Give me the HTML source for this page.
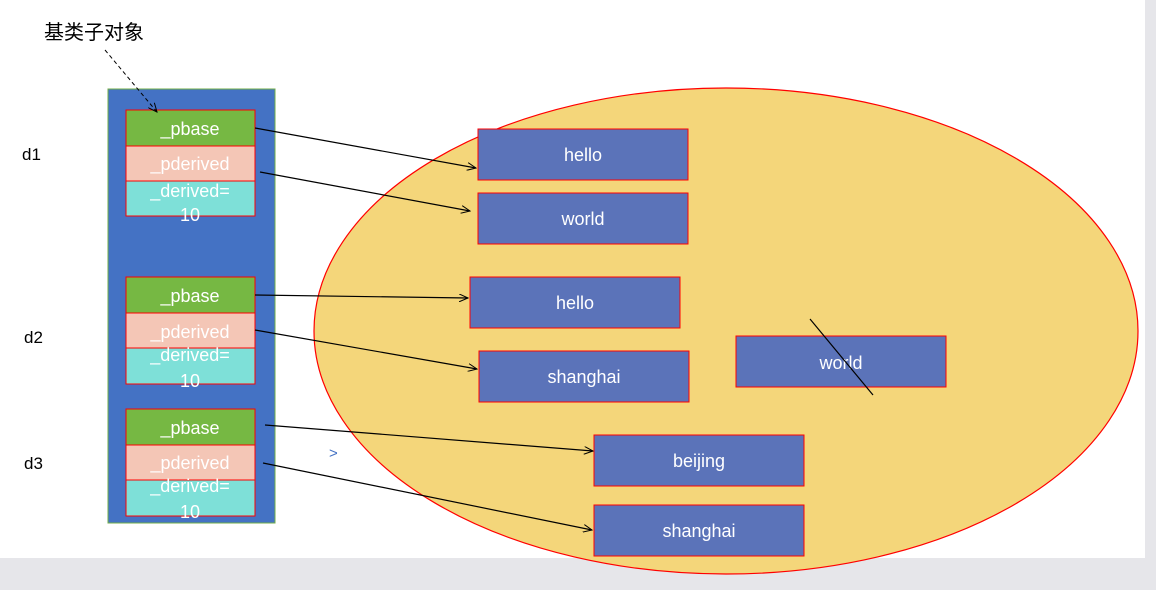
<!DOCTYPE html>
<html><head><meta charset="utf-8"><style>
body{margin:0;width:1156px;height:590px;background:#e6e6ea;overflow:hidden;font-family:"Liberation Sans","Noto Sans CJK SC",sans-serif}
</style></head><body>
<svg width="1156" height="590" xmlns="http://www.w3.org/2000/svg" style="position:absolute;left:0;top:0">
<defs><marker id="a" markerWidth="10" markerHeight="8" refX="9" refY="4" orient="auto" markerUnits="userSpaceOnUse"><path d="M0,0 L9,4 L0,8" fill="none" stroke="#000" stroke-width="1"/></marker></defs>
<rect x="0" y="0" width="1145" height="558" fill="#fff"/>
<ellipse cx="726" cy="331" rx="412" ry="243" fill="#f4d67a" stroke="#f00" stroke-width="1.2"/>
<text x="44" y="39" font-size="20" fill="#000">基类子对象</text>
<text x="22" y="160" font-size="17">d1</text>
<text x="24" y="343" font-size="17">d2</text>
<text x="24" y="469" font-size="17">d3</text>
<rect x="108" y="89" width="167" height="434" fill="#4472c4" stroke="#70ad47"/>
<g font-size="18" fill="#fff" text-anchor="middle" stroke="#f00" stroke-width="1">
<rect x="126" y="110" width="129" height="36" fill="#76b843"/><rect x="126" y="146" width="129" height="35" fill="#f4c6b6"/><rect x="126" y="181" width="129" height="35" fill="#7ee0d8"/>
<rect x="126" y="277" width="129" height="36" fill="#76b843"/><rect x="126" y="313" width="129" height="35" fill="#f4c6b6"/><rect x="126" y="348" width="129" height="36" fill="#7ee0d8"/>
<rect x="126" y="409" width="129" height="36" fill="#76b843"/><rect x="126" y="445" width="129" height="35" fill="#f4c6b6"/><rect x="126" y="480" width="129" height="36" fill="#7ee0d8"/>
<rect x="478" y="129" width="210" height="51" fill="#5b73b9"/>
<rect x="478" y="193" width="210" height="51" fill="#5b73b9"/>
<rect x="470" y="277" width="210" height="51" fill="#5b73b9"/>
<rect x="479" y="351" width="210" height="51" fill="#5b73b9"/>
<rect x="736" y="336" width="210" height="51" fill="#5b73b9"/>
<rect x="594" y="435" width="210" height="51" fill="#5b73b9"/>
<rect x="594" y="505" width="210" height="51" fill="#5b73b9"/>
</g>
<line x1="105" y1="50" x2="157" y2="112" stroke="#000" stroke-dasharray="4,3" marker-end="url(#a)"/>
<g font-size="18" fill="#fff" text-anchor="middle">
<text x="190" y="135">_pbase</text><text x="190" y="170">_pderived</text><text x="190" y="197">_derived=</text><text x="190" y="221">10</text>
<text x="190" y="302">_pbase</text><text x="190" y="338">_pderived</text><text x="190" y="361">_derived=</text><text x="190" y="387">10</text>
<text x="190" y="434">_pbase</text><text x="190" y="469">_pderived</text><text x="190" y="492">_derived=</text><text x="190" y="518">10</text>
<text x="583" y="161">hello</text><text x="583" y="225">world</text><text x="575" y="309">hello</text><text x="584" y="383">shanghai</text><text x="841" y="369">world</text><text x="699" y="467">beijing</text><text x="699" y="537">shanghai</text>
</g>
<g stroke="#000" stroke-width="1.2" marker-end="url(#a)">
<line x1="255" y1="128" x2="476" y2="168"/>
<line x1="260" y1="172" x2="470" y2="211"/>
<line x1="255" y1="295" x2="468" y2="298"/>
<line x1="255" y1="330" x2="477" y2="369"/>
<line x1="265" y1="425" x2="593" y2="451"/>
<line x1="263" y1="463" x2="592" y2="530"/>
</g>
<line x1="810" y1="319" x2="873" y2="395" stroke="#000" stroke-width="1.2"/>
<text x="329" y="458" font-size="15" fill="#4472c4">&gt;</text>
</svg>
</body></html>
